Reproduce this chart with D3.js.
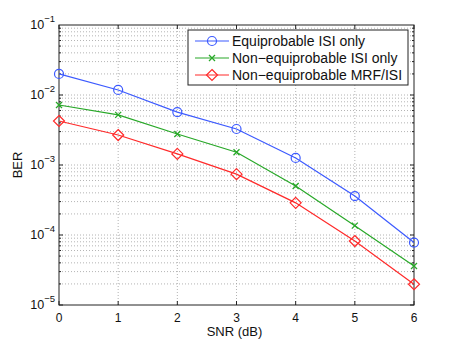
<!DOCTYPE html>
<html lang="en">
<head>
  <meta charset="UTF-8">
  <title>BER vs SNR</title>
  <style>
    body { margin: 0; padding: 0; background: #fff; }
    svg { display: block; font-family: "Liberation Sans", Arial, sans-serif; }
  </style>
  <script src="https://d3js.org/d3.v7.min.js"></script>
</head>
<body>
  <div id="chart"></div>
  <script>
    // SNR values (dB)
    const snr = [0, 1, 2, 3, 4, 5, 6];
    const xTicks = [0, 1, 2, 3, 4, 5, 6];
    const yDecades = [-5, -4, -3, -2, -1];

    const seriesNames = ["Equiprobable ISI only", "Non\u2212equiprobable ISI only", "Non\u2212equiprobable MRF/ISI"];
    const equiIsi = [2.0e-2, 1.18e-2, 5.7e-3, 3.27e-3, 1.26e-3, 3.6e-4, 7.8e-5];
    const nonEquiIsi = [7.2e-3, 5.2e-3, 2.77e-3, 1.52e-3, 5.0e-4, 1.36e-4, 3.6e-5];
    const nonEquiMrf = [4.25e-3, 2.68e-3, 1.44e-3, 7.4e-4, 2.88e-4, 8.2e-5, 1.98e-5];

    const width = 457, height = 344;
    const margin = {top: 25, right: 43, bottom: 39, left: 59};
    const w = width - margin.left - margin.right;
    const h = height - margin.top - margin.bottom;

    const svg = d3.select("#chart").append("svg")
      .attr("width", width)
      .attr("height", height);

    const g = svg.append("g")
      .attr("transform", `translate(${margin.left},${margin.top})`);

    const x = d3.scaleLinear().domain([0, 6]).range([0, w]);
    const y = d3.scaleLog().domain([1e-5, 1e-1]).range([h, 0]);

    // grid lines (dotted)
    const minorVals = [];
    yDecades.slice(0, -1).forEach(e => {
      for (let k = 1; k <= 9; k++) minorVals.push(k * Math.pow(10, e));
    });

    g.selectAll(".ygrid")
      .data(minorVals.filter(v => v > 1e-5))
      .enter().append("line")
      .attr("x1", 0).attr("x2", w)
      .attr("y1", d => y(d)).attr("y2", d => y(d))
      .attr("stroke", "#a0a0a0")
      .attr("stroke-width", 0.8)
      .attr("stroke-dasharray", "1,2");

    g.selectAll(".xgrid")
      .data(xTicks.slice(1, -1))
      .enter().append("line")
      .attr("x1", d => x(d)).attr("x2", d => x(d))
      .attr("y1", 0).attr("y2", h)
      .attr("stroke", "#a0a0a0")
      .attr("stroke-width", 0.8)
      .attr("stroke-dasharray", "1,2");

    // axes box + inward ticks
    const axisColor = "#222";
    g.append("rect")
      .attr("width", w).attr("height", h)
      .attr("fill", "none")
      .attr("stroke", axisColor)
      .attr("stroke-width", 1);

    xTicks.forEach(t => {
      g.append("line").attr("x1", x(t)).attr("x2", x(t)).attr("y1", h).attr("y2", h - 4).attr("stroke", axisColor);
      g.append("line").attr("x1", x(t)).attr("x2", x(t)).attr("y1", 0).attr("y2", 4).attr("stroke", axisColor);
    });
    minorVals.forEach((v, i) => {
      const len = (i % 9 === 0) ? 4 : 2;
      g.append("line").attr("x1", 0).attr("x2", len).attr("y1", y(v)).attr("y2", y(v)).attr("stroke", axisColor);
      g.append("line").attr("x1", w).attr("x2", w - len).attr("y1", y(v)).attr("y2", y(v)).attr("stroke", axisColor);
    });

    // tick labels
    g.selectAll(".xlab")
      .data(xTicks)
      .enter().append("text")
      .attr("x", d => x(d))
      .attr("y", h + 17)
      .attr("text-anchor", "middle")
      .attr("font-size", 12)
      .attr("fill", "#111")
      .text(d => d);

    const ylab = g.selectAll(".ylab")
      .data(yDecades)
      .enter().append("text")
      .attr("x", -4)
      .attr("y", d => y(Math.pow(10, d)) + 4)
      .attr("text-anchor", "end")
      .attr("font-size", 12.5)
      .attr("fill", "#111");
    ylab.append("tspan").text("10");
    ylab.append("tspan")
      .attr("dy", -7)
      .attr("font-size", 9.5)
      .text(d => "\u2212" + Math.abs(d));

    // axis titles
    svg.append("text")
      .attr("x", margin.left + w / 2 - 2)
      .attr("y", 336)
      .attr("text-anchor", "middle")
      .attr("font-size", 13)
      .attr("fill", "#111")
      .text("SNR (dB)");

    svg.append("text")
      .attr("transform", `translate(22,${margin.top + h / 2}) rotate(-90)`)
      .attr("text-anchor", "middle")
      .attr("font-size", 13)
      .attr("fill", "#111")
      .text("BER");

    // series
    const colors = ["#3c5aff", "#28a828", "#ff2a2a"];
    const allData = [equiIsi, nonEquiIsi, nonEquiMrf];
    const markers = ["circle", "cross", "diamond"];

    const line = d3.line()
      .x((d, i) => x(snr[i]))
      .y(d => y(d));

    function drawMarker(sel, type, color) {
      if (type === "circle") {
        sel.append("circle").attr("r", 4.5)
          .attr("fill", "none").attr("stroke", color).attr("stroke-width", 1.2);
      } else if (type === "cross") {
        sel.append("path").attr("d", "M-3,-3L3,3M-3,3L3,-3")
          .attr("fill", "none").attr("stroke", color).attr("stroke-width", 1.3);
      } else {
        sel.append("path").attr("d", "M0,-5.5L5.5,0L0,5.5L-5.5,0Z")
          .attr("fill", "none").attr("stroke", color).attr("stroke-width", 1.2);
      }
    }

    allData.forEach((vals, s) => {
      g.append("path")
        .datum(vals)
        .attr("fill", "none")
        .attr("stroke", colors[s])
        .attr("stroke-width", 1.2)
        .attr("d", line);

      vals.forEach((v, i) => {
        const m = g.append("g").attr("transform", `translate(${x(snr[i])},${y(v)})`);
        drawMarker(m, markers[s], colors[s]);
      });
    });

    // legend
    const lg = svg.append("g").attr("transform", "translate(188,30)");
    lg.append("rect")
      .attr("width", 220).attr("height", 55)
      .attr("fill", "#fff")
      .attr("stroke", axisColor)
      .attr("stroke-width", 1);

    seriesNames.forEach((name, s) => {
      const yy = 11 + s * 17;
      lg.append("line")
        .attr("x1", 7).attr("x2", 41)
        .attr("y1", yy).attr("y2", yy)
        .attr("stroke", colors[s]).attr("stroke-width", 1.2);
      const m = lg.append("g").attr("transform", `translate(24,${yy})`);
      drawMarker(m, markers[s], colors[s]);
      lg.append("text")
        .attr("x", 44)
        .attr("y", yy + 5)
        .attr("font-size", 14)
        .attr("fill", "#111")
        .text(name);
    });
  </script>
</body>
</html>
